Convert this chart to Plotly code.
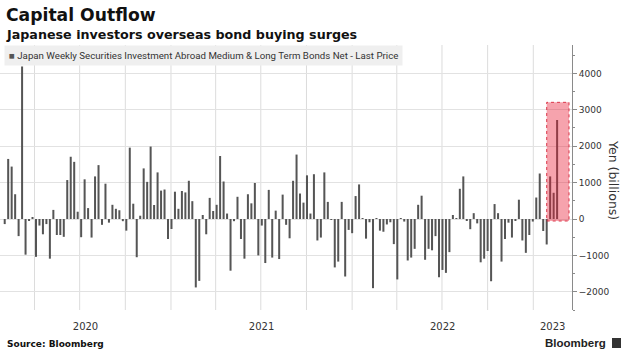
import plotly.graph_objects as go
import pandas as pd

title = "Capital Outflow"
subtitle = "Japanese investors overseas bond buying surges"
series_name = "Japan Weekly Securities Investment Abroad Medium & Long Term Bonds Net - Last Price"
y_title = "Yen (billions)"
source = "Source: Bloomberg"
last_week = "2023-02-18"

# weekly net purchases, yen billions
values_2020a = [-140, 1650, 1440, 680, -470, 4190, -980, -50, 30, -1040, -180, -420, -140, -1090,
                250, -440, -440, -490, 1070, 1710, 1570, 200, -500, 1090, 300, -510, 1170, 1480,
                -160, 970, -100, 390, 280]
values_2020b = [240, -60, -320, 1960, 420, -1050, 90, 1390, 1020, 1990, 385, 1280, 780, 810, -550,
                -275, 750, 280, 770, 730, 1050, 490, -1880, -1700, 110, -420, 580, 220, 390, 1730,
                1030, 150]
values_2021 = [-1420, -60, 610, -550, -1090, 680, 430, 990, -1000, -180, -1210, 800, -1060, 230,
               -1100, 670, -160, -530, 1050, 1770, 700, 450, 1200, 150, 1230, -590, -510, 1280,
               470, -10, -1330, -1170, 470]
values_2022a = [-1580, -300, -390, 630, 950, 20, -540, -90, -1900, 20, -320, -350, -150, -90, -690,
                -1660, 10, -70, -1140, -1060, -820, 390, 640, -1120, -820, -860, -470, -1600,
                -1400, -1480, -910, 110, 20]
values_2022b = [830, 1170, -50, -280, 160, -120, -1190, -1090, -880, -1710, 410, 160, -1170, -550,
                -100, -510, -50, 530, -590, -930, -440, -70, 590, 1250, -330, -700, 1170, 720, 2720]

values = values_2020a + values_2020b + values_2021 + values_2022a + values_2022b
dates = pd.date_range(end=last_week, periods=len(values), freq="7D")

year_labels = ["2020", "2021", "2022", "2023"]
y_ticks = [-2000, -1000, 0, 1000, 2000, 3000, 4000]

x_start = pd.Timestamp("2020-01-22 12:00")
x_end = pd.Timestamp("2023-03-20")
y_range = [-2500, 4780]

# year label centres: middle of the visible part of each year
year_centres = []
for y in year_labels:
    a = max(pd.Timestamp(f"{y}-01-01"), x_start)
    b = min(pd.Timestamp(f"{int(y)+1}-01-01"), x_end)
    year_centres.append(a + (b - a) / 2)

quarters = [d.strftime("%Y-%m-%d") for d in pd.date_range("2020-04-01", "2023-01-01", freq="QS")]

fig = go.Figure()
fig.add_trace(go.Bar(x=dates, y=values, marker_color="#555555", marker_line_width=0,
                     name=series_name, showlegend=False))

W, H = 626, 351
L, R, T, B = 0, 54, 45, 41
pw, ph = W - L - R, H - T - B

def px(x):
    return (x - L) / pw

def py(y):
    return (H - B - y) / ph

fig.update_layout(
    width=W, height=H,
    margin=dict(l=L, r=R, t=T, b=B, pad=0),
    paper_bgcolor="white", plot_bgcolor="white",
    bargap=0.42,
    font=dict(family="DejaVu Sans", color="#333333"),
    xaxis=dict(
        range=[x_start, x_end], type="date",
        tickmode="array", tickvals=year_centres, ticktext=year_labels,
        showgrid=False, zeroline=False, showline=False,
        ticks="outside", ticklen=7, tickcolor="rgba(0,0,0,0)",
        tickfont=dict(size=10, color="#333333", family="DejaVu Sans"),
    ),
    yaxis=dict(
        range=y_range, side="right", tickvals=y_ticks,
        showgrid=True, gridcolor="#e2e2e2", gridwidth=1, zeroline=False,
        showline=True, linecolor="#8a8a8a", linewidth=1,
        ticks="outside", ticklen=4, tickcolor="#8a8a8a",
        tickfont=dict(size=9, color="#333333", family="DejaVu Sans"),
        minor=dict(dtick=500, ticks="outside", ticklen=2, tickcolor="#8a8a8a", showgrid=False),
    ),
)

# vertical quarterly gridlines, drawn below the bars
for q in quarters:
    fig.add_shape(type="line", xref="x", yref="paper", x0=q, x1=q, y0=0, y1=1,
                  line=dict(color="#dcdcdc", width=1), layer="below")

# highlight box around the latest surge
fig.add_shape(type="rect", xref="x", yref="y",
              x0="2023-01-28", x1="2023-03-14", y0=-55, y1=3205,
              fillcolor="rgba(232,25,50,0.40)", line=dict(color="rgba(215,40,60,0.9)", width=1, dash="dot"),
              layer="above")

ann = []
ann.append(dict(text=f"<b>{title}</b>", x=px(4), y=py(15), xref="paper", yref="paper",
                xanchor="left", yanchor="middle", showarrow=False,
                font=dict(size=17.2, family="DejaVu Sans", color="#111111")))
ann.append(dict(text=f"<b>{subtitle}</b>", x=px(4), y=py(34), xref="paper", yref="paper",
                xanchor="left", yanchor="middle", showarrow=False,
                font=dict(size=12.7, family="DejaVu Sans", color="#111111")))
ann.append(dict(text=f"<span style='color:#555555'>■</span> {series_name}", x=px(4), y=py(55.5),
                xref="paper", yref="paper", xanchor="left", yanchor="middle", showarrow=False,
                align="left", bgcolor="#efefef", borderpad=4,
                font=dict(size=9.7, family="Roboto", color="#333333")))
ann.append(dict(text=y_title, x=px(614), y=py(180), xref="paper", yref="paper",
                xanchor="center", yanchor="middle", showarrow=False, textangle=90,
                font=dict(size=12.5, family="DejaVu Sans", color="#333333")))
ann.append(dict(text=f"<b>{source}</b>", x=px(5), y=py(344), xref="paper", yref="paper",
                xanchor="left", yanchor="middle", showarrow=False,
                font=dict(size=9, family="DejaVu Sans", color="#111111")))
ann.append(dict(text="<b>Bloomberg</b>", x=px(608), y=py(343), xref="paper", yref="paper",
                xanchor="right", yanchor="middle", showarrow=False,
                font=dict(size=11.5, family="Liberation Sans", color="#222222")))
fig.update_layout(annotations=ann)

# small logo mark
fig.add_shape(type="rect", xref="paper", yref="paper",
              x0=px(612), x1=px(621), y0=py(348), y1=py(338),
              fillcolor="#333333", line=dict(width=0))

fig.write_html("out.html")
